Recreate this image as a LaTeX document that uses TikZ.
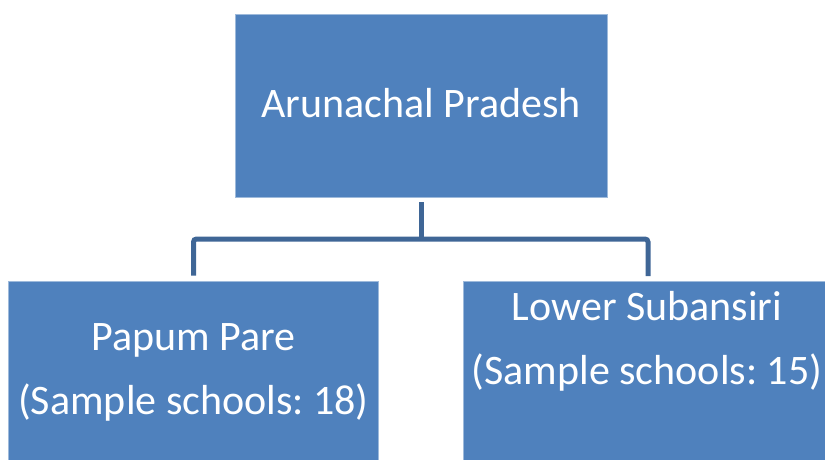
\documentclass[tikz,border=0pt]{standalone}
\usepackage{fontspec}
\setmainfont{Carlito}
\usepackage{xcolor}
\definecolor{officeblue}{HTML}{4F81BD}
\definecolor{officedarkblue}{HTML}{3F6696}
\usepackage{tikz}
\usetikzlibrary{positioning}
\frenchspacing

\begin{document}
\begin{tikzpicture}[
  x=1pt, y=-1pt,
  box/.style={rectangle, fill=officeblue, draw=officeblue!55!white, line width=0.8pt,
              text=white, align=center, inner sep=0pt},
  topbox/.style={box, minimum width=372pt, minimum height=183pt, text depth=5pt,
                 font=\fontsize{42}{50}\selectfont},
  leafbox/.style={box, minimum width=370pt, minimum height=180pt},
  leaftext/.style={text=white, align=center, inner sep=0pt,
                   font=\fontsize{42}{64}\selectfont},
  link/.style={draw=officedarkblue, line width=5pt, rounded corners=3pt}
]
\useasboundingbox (0,0) rectangle (825,460);

\node[topbox] (state) at (421,105.5) {Arunachal Pradesh};

\node[leafbox] (papum) at (193.5,371) {};
\node[leaftext, below=43pt of papum.north] (papumtext)
  {Papum Pare\\(Sample schools: 18)};
\node[leafbox, minimum width=368pt] (lower) at (647,371.5) {};
\node[leaftext, below=10.5pt of lower.north] (lowertext)
  {Lower Subansiri\\(Sample schools: 15)};

% connector
\coordinate (fork) at (421,239);
\draw[link] ([yshift=-5pt]state.south) -- (fork);
\draw[link] ([yshift=5pt]papum.north) |- (fork) -| ([xshift=1pt, yshift=5pt]lower.north);
\end{tikzpicture}
\end{document}
